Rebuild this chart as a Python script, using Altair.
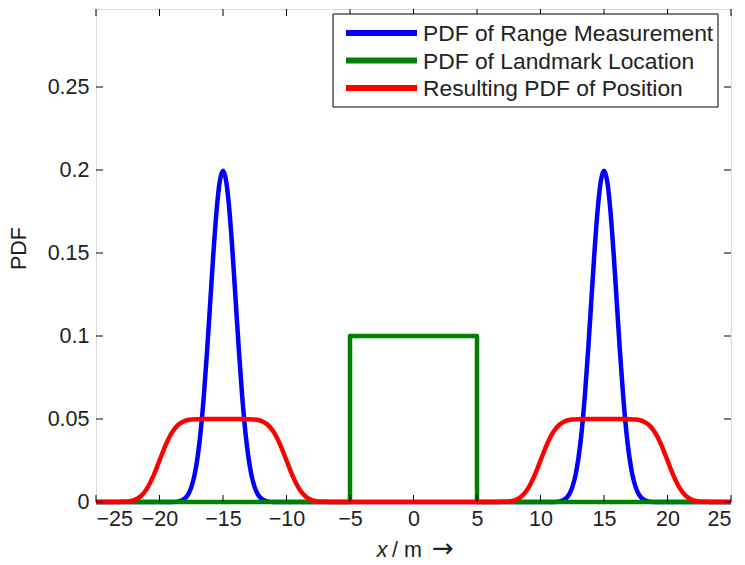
import altair as alt
import pandas as pd

# ---------------- data ----------------
blue_x = [-25, -19, -18.5, -18, -17.75, -17.5, -17.25, -17, -16.75, -16.5, -16.25, -16,
          -15.75, -15.5, -15.25, -15, -14.75, -14.5, -14.25, -14, -13.75, -13.5, -13.25,
          -13, -12.75, -12.5, -12.25, -12, -11.5, -11,
          11, 11.5, 12, 12.25, 12.5, 12.75, 13, 13.25, 13.5, 13.75, 14, 14.25, 14.5, 14.75,
          15, 15.25, 15.5, 15.75, 16, 16.25, 16.5, 16.75, 17, 17.25, 17.5, 17.75, 18, 18.5,
          19, 25]
blue_y = [0.0, 0.0, 0.0004, 0.0022, 0.0045, 0.0088, 0.0159, 0.0270, 0.0431, 0.0648, 0.0913, 0.1210,
          0.1506, 0.1760, 0.1933, 0.1995, 0.1933, 0.1760, 0.1506, 0.1210, 0.0913, 0.0648, 0.0431,
          0.0270, 0.0159, 0.0088, 0.0045, 0.0022, 0.0004, 0.0,
          0.0, 0.0004, 0.0022, 0.0045, 0.0088, 0.0159, 0.0270, 0.0431, 0.0648, 0.0913, 0.1210, 0.1506, 0.1760, 0.1933,
          0.1995, 0.1933, 0.1760, 0.1506, 0.1210, 0.0913, 0.0648, 0.0431, 0.0270, 0.0159, 0.0088, 0.0045, 0.0022, 0.0004,
          0.0, 0.0]

green_x = [-25, -5, -5, 5, 5, 25]
green_y = [0.0, 0.0, 0.1, 0.1, 0.0, 0.0]

red_x = [-25, -23.5, -23, -22.5, -22, -21.5, -21, -20.5, -20, -19.5, -19, -18.5, -18, -17.5, -17, -16.5,
         -13.5, -13, -12.5, -12, -11.5, -11, -10.5, -10, -9.5, -9, -8.5, -8, -7.5, -7, -6.5,
         6.5, 7, 7.5, 8, 8.5, 9, 9.5, 10, 10.5, 11, 11.5, 12, 12.5, 13, 13.5,
         16.5, 17, 17.5, 18, 18.5, 19, 19.5, 20, 20.5, 21, 21.5, 22, 22.5, 23, 23.5, 25]
red_y = [0.0, 0.0, 0.0001, 0.0003, 0.0011, 0.0033, 0.0079, 0.0154, 0.0250, 0.0346, 0.0421, 0.0467, 0.0489, 0.0497, 0.0499, 0.0500,
         0.0500, 0.0499, 0.0497, 0.0489, 0.0467, 0.0421, 0.0346, 0.0250, 0.0154, 0.0079, 0.0033, 0.0011, 0.0003, 0.0001, 0.0,
         0.0, 0.0001, 0.0003, 0.0011, 0.0033, 0.0079, 0.0154, 0.0250, 0.0346, 0.0421, 0.0467, 0.0489, 0.0497, 0.0499, 0.0500,
         0.0500, 0.0499, 0.0497, 0.0489, 0.0467, 0.0421, 0.0346, 0.0250, 0.0154, 0.0079, 0.0033, 0.0011, 0.0003, 0.0001, 0.0, 0.0]

x_ticks = [-25, -20, -15, -10, -5, 0, 5, 10, 15, 20, 25]
y_ticks = [0, 0.05, 0.1, 0.15, 0.2, 0.25]

series_labels = ["PDF of Range Measurement", "PDF of Landmark Location", "Resulting PDF of Position"]
series_colors = ["#0000ff", "#008000", "#ff0000"]

# ---------------- styling ----------------
FONT = "Liberation Sans"
TXT = "#222222"
W, H = 635, 493
xs = alt.Scale(domain=[-25, 25], nice=False, zero=False)
ys = alt.Scale(domain=[0, 0.297], nice=False, zero=False)

X_AX = alt.Axis(values=x_ticks, format="d", title=None, ticks=False, tickSize=0, domain=False,
                grid=False, labelFontSize=21.5, labelFont=FONT, labelColor=TXT, labelPadding=6)
Y_AX = alt.Axis(values=y_ticks, format="~g", title="PDF", ticks=False, tickSize=0, domain=False,
                grid=False, labelFontSize=21.5, labelFont=FONT, labelColor=TXT, labelPadding=7,
                titleFont=FONT, titleFontSize=21.5, titleFontWeight="normal", titleColor=TXT,
                titleX=-77, titleY=239, titleAngle=270, titleAlign="center", titleBaseline="middle")


def df_of(xv, yv):
    return pd.DataFrame({"x": xv, "y": yv, "i": list(range(len(xv)))})


def curve(xv, yv, color, interp):
    return alt.Chart(df_of(xv, yv)).mark_line(
        color=color, strokeWidth=4.5, interpolate=interp, strokeJoin="round", strokeCap="butt"
    ).encode(
        x=alt.X("x:Q", scale=xs, axis=X_AX),
        y=alt.Y("y:Q", scale=ys, axis=Y_AX),
        order="i:Q",
    )


blue = curve(blue_x, blue_y, series_colors[0], "monotone")
green = curve(green_x, green_y, series_colors[1], "linear")
red = curve(red_x, red_y, series_colors[2], "monotone")

# inward tick marks on all four sides (MATLAB box style)
xt = pd.DataFrame({"x": x_ticks})
yt = pd.DataFrame({"y": y_ticks})
TL = 7
tick_b = alt.Chart(xt).mark_rule(color="black", strokeWidth=1).encode(
    x=alt.X("x:Q", scale=xs, axis=X_AX), y=alt.value(H), y2=alt.value(H - TL))
tick_t = alt.Chart(xt).mark_rule(color="black", strokeWidth=1).encode(
    x=alt.X("x:Q", scale=xs, axis=X_AX), y=alt.value(0), y2=alt.value(TL))
tick_l = alt.Chart(yt).mark_rule(color="black", strokeWidth=1).encode(
    y=alt.Y("y:Q", scale=ys, axis=Y_AX), x=alt.value(0), x2=alt.value(TL))
tick_r = alt.Chart(yt).mark_rule(color="black", strokeWidth=1).encode(
    y=alt.Y("y:Q", scale=ys, axis=Y_AX), x=alt.value(W - TL), x2=alt.value(W))

# x axis title with italic x and a wide arrow
one = pd.DataFrame({"a": [0]})
TY = 548
xt_italic = alt.Chart(one).mark_text(font=FONT, fontSize=21.5, fontStyle="italic", color=TXT,
                                     align="center", baseline="alphabetic").encode(
    x=alt.value(286), y=alt.value(TY), text=alt.value("x"))
xt_rest = alt.Chart(one).mark_text(font=FONT, fontSize=21.5, color=TXT,
                                   align="left", baseline="alphabetic").encode(
    x=alt.value(296), y=alt.value(TY), text=alt.value("/ m"))
xt_arrow = alt.Chart(one).mark_text(font="DejaVu Sans", fontSize=26, color=TXT,
                                    align="center", baseline="alphabetic").encode(
    x=alt.value(347), y=alt.value(TY), text=alt.value("\u2192"))

# legend box
leg_box = alt.Chart(one).mark_rect(fill="white", stroke="black", strokeWidth=1).encode(
    x=alt.value(237), x2=alt.value(622), y=alt.value(5), y2=alt.value(98))
leg_layers = [leg_box]
for k, (lab, col) in enumerate(zip(series_labels, series_colors)):
    ry = 24 + 27.5 * k
    leg_layers.append(alt.Chart(one).mark_rule(color=col, strokeWidth=6).encode(
        x=alt.value(250), x2=alt.value(321), y=alt.value(ry)))
    leg_layers.append(alt.Chart(one).mark_text(font=FONT, fontSize=22.8, color=TXT,
                                               align="left", baseline="middle").encode(
        x=alt.value(327), y=alt.value(ry + 1), text=alt.value(lab)))

chart = alt.layer(
    blue, green, red, tick_b, tick_t, tick_l, tick_r, xt_italic, xt_rest, xt_arrow, *leg_layers
).properties(
    width=W, height=H,
    padding={"left": 88, "top": 1, "right": 5, "bottom": 60},
    autosize=alt.AutoSizeParams(type="none"),
).configure_view(stroke="black", strokeWidth=1).configure(background="white")

chart.save("out.html", embed_options={"renderer": "svg", "actions": False})
